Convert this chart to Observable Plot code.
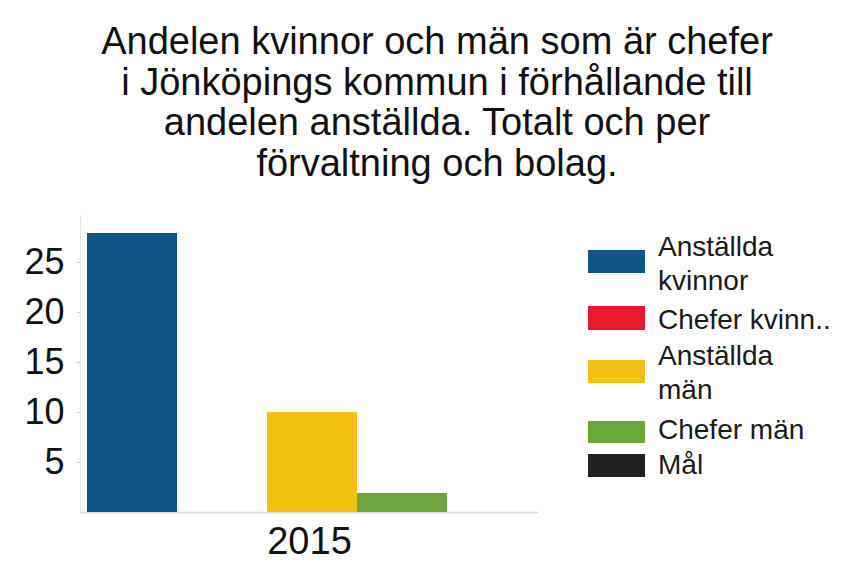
<!DOCTYPE html>
<html>
<head>
<meta charset="utf-8">
<script src="https://cdn.jsdelivr.net/npm/d3@7"></script>
<script src="https://cdn.jsdelivr.net/npm/@observablehq/plot@0.6"></script>
<style>
  body { margin: 0; background: #fff; font-family: "Liberation Sans", Arial, sans-serif; }
  #wrap { position: relative; width: 862px; height: 577px; overflow: hidden; background: #fff; }
  #title { position: absolute; left: 0; top: 21px; width: 874px; }
  #title div { text-align: center; font-size: 38px; line-height: 40.7px; color: #111; white-space: nowrap; }
  #chart { position: absolute; left: 0; top: 195px; }
  .lg-sw { position: absolute; left: 588px; width: 57px; }
  .lg-tx { position: absolute; left: 658px; font-size: 28px; line-height: 28px; color: #1a1a1a; white-space: nowrap; }
</style>
</head>
<body>
<div id="wrap">
  <div id="title"></div>
  <div id="chart"></div>
  <div id="legend"></div>
</div>
<script>
// ---- data ----
const titleLines = [
  "Andelen kvinnor och män som är chefer",
  "i Jönköpings kommun i förhållande till",
  "andelen anställda. Totalt och per",
  "förvaltning och bolag."
];
const years = ["2015"];
const series = ["Anställda kvinnor", "Chefer kvinnor", "Anställda män", "Chefer män", "Mål"];
const legendLabels = [["Anställda", "kvinnor"], ["Chefer kvinn.."], ["Anställda", "män"], ["Chefer män"], ["Mål"]];
const values2015 = [27.9, 0, 10.0, 1.9, 0];
const colors = ["#0e5586", "#e8192c", "#f3c111", "#6ca63c", "#222222"];
const yTicks = [5, 10, 15, 20, 25];

// ---- layout (not data) ----
const swatchLayout = [[250, 23], [306, 24], [360, 23], [421, 22], [454, 23]]; // top, height
const textBaselines = [[257, 291], [330], [366, 400], [440], [475]];

// title
const titleEl = document.getElementById("title");
titleLines.forEach(t => {
  const d = document.createElement("div");
  d.textContent = t;
  titleEl.appendChild(d);
});

// chart
const data = [];
years.forEach(yr => series.forEach((s, i) => data.push({year: yr, series: s, value: values2015[i]})));

const chart = Plot.plot({
  width: 560,
  height: 382,
  marginLeft: 80,
  marginRight: 22,
  marginTop: 20,
  marginBottom: 65,
  style: {fontFamily: "Liberation Sans, Arial, sans-serif", background: "transparent", color: "#111"},
  x: {domain: series, padding: 0, insetLeft: 7, insetRight: 1, axis: null},
  y: {domain: [0, 29.7], label: null},
  color: {domain: series, range: colors},
  marks: [
    Plot.ruleY([0], {stroke: "#d9d9d9", strokeWidth: 1.5}),
    Plot.frame({anchor: "left", stroke: "#e2e2e2"}),
    Plot.barY(data, {x: "series", y: "value", fill: "series"}),
    Plot.axisY({ticks: yTicks, tickSize: 3, tickPadding: 13, stroke: "#cfcfcf", fill: "#111", fontSize: 36, label: null}),
    Plot.text(years, {frameAnchor: "bottom", dy: 29, lineAnchor: "middle", fontSize: 38, fill: "#111"})
  ]
});
document.getElementById("chart").appendChild(chart);

// legend
const lg = document.getElementById("legend");
series.forEach((s, i) => {
  const sw = document.createElement("div");
  sw.className = "lg-sw";
  sw.style.top = swatchLayout[i][0] + "px";
  sw.style.height = swatchLayout[i][1] + "px";
  sw.style.background = colors[i];
  lg.appendChild(sw);
  legendLabels[i].forEach((line, j) => {
    const t = document.createElement("div");
    t.className = "lg-tx";
    t.textContent = line;
    t.style.top = (textBaselines[i][j] - 24) + "px";
    lg.appendChild(t);
  });
});
</script>
</body>
</html>
